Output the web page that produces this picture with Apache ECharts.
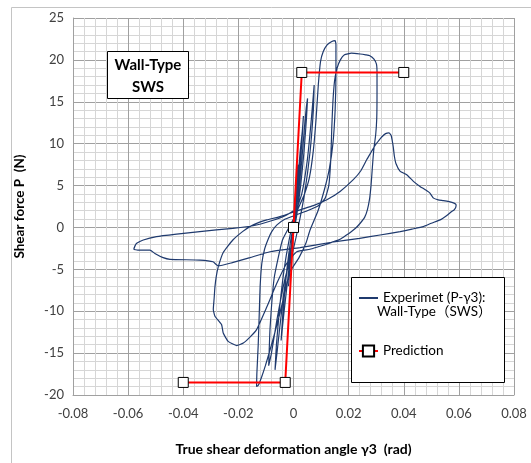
<!doctype html>
<html>
	<head>
		<meta charset="UTF-8">
		<title></title>
		<script src="https://cdn.jsdelivr.net/npm/echarts@6/dist/echarts.min.js"></script>
		<style>
			html, body { margin: 0; padding: 0; background: #fff; }
			#chart { width: 531px; height: 463px; }
		</style>
	</head>
	<body>
		<div id="chart"></div>
		<script type="text/javascript">
			// axis ticks
			var xTicks = [-0.08, -0.06, -0.04, -0.02, 0, 0.02, 0.04, 0.06, 0.08];
			var yTicks = [-20, -15, -10, -5, 0, 5, 10, 15, 20, 25];

			// prediction (skeleton curve)
			var predX = [-0.04, -0.003, 0, 0.003, 0.04];
			var predY = [-18.5, -18.5, 0, 18.5, 18.5];

			var smallCycles = [
				[0, 0], [0.0006, 3], [0.0012, 6], [0.0016, 7.5], [0.0012, 5.5], [0.0004, 2], [-0.0004, -1],
				[-0.0012, -4.5], [-0.0018, -7], [-0.0014, -5], [-0.0006, -1.5],
				[0.0004, 1.5], [0.0014, 5], [0.0024, 9], [0.0032, 11.5], [0.0036, 13.3], [0.003, 10], [0.0018, 5],
				[0.0006, 1], [-0.0008, -2.5], [-0.0022, -6.5], [-0.0034, -10], [-0.0042, -12.5], [-0.0045, -13.5],
				[-0.0038, -10], [-0.0024, -5], [-0.001, -1.5],
				[0.0004, 1], [0.0018, 4], [0.003, 8], [0.004, 12], [0.0046, 14.2], [0.0051, 15.4], [0.0047, 13],
				[0.0038, 9], [0.0026, 5], [0.0012, 1.5], [-0.0004, -1.5], [-0.002, -4.5], [-0.0036, -8], [-0.005, -12],
				[-0.006, -15], [-0.0067, -17], [-0.0062, -14], [-0.005, -9.5], [-0.0034, -5], [-0.0016, -1.5]
			];
			var midCycle = [
				[0.0005, 1.5], [0.003, 4], [0.005, 8], [0.0065, 13], [0.0075, 17], [0.0072, 14], [0.006, 9],
				[0.004, 4], [0.002, 0.5], [0, -2.5], [-0.003, -6], [-0.006, -11], [-0.008, -15], [-0.009, -16.5],
				[-0.0085, -12], [-0.007, -6], [-0.004, -1.5]
			];
			var peakCycle = [
				[0, 1], [0.002, 2.5], [0.004, 4], [0.0058, 6], [0.0072, 9.2], [0.0082, 13], [0.009, 17], [0.0098, 19.8],
				[0.0108, 21], [0.0122, 21.8], [0.0139, 22.2], [0.0151, 22.3], [0.0154, 21.8], [0.0154, 18.4],
				[0.0151, 14], [0.0143, 10], [0.013, 7], [0.0112, 4.5], [0.0089, 2], [0.006, -0.3], [0.0046, -1.8],
				[0.002, -3.6], [-0.0013, -5.3], [-0.0032, -7.8], [-0.0049, -10.2], [-0.0068, -12.6], [-0.0085, -14.6],
				[-0.0102, -16.5], [-0.0115, -17.8], [-0.0127, -18.8], [-0.0134, -19], [-0.0133, -17.5], [-0.0128, -14],
				[-0.0124, -10], [-0.0121, -7], [-0.0115, -4.3], [-0.0105, -2.6], [-0.0092, -1.4], [-0.0079, -0.5]
			];
			var plateauCycle = [
				[-0.006, 0.3], [-0.003, 1], [0.001, 1.5], [0.005, 2], [0.009, 2.6], [0.0115, 3.5], [0.0128, 5],
				[0.0135, 8], [0.0139, 12], [0.0143, 15], [0.0149, 17.5], [0.0158, 19], [0.017, 20], [0.0185, 20.6],
				[0.021, 20.8], [0.0242, 20.7], [0.0262, 20.6], [0.0277, 20.5], [0.0292, 20.1], [0.0301, 19.5],
				[0.0303, 18.5], [0.0303, 16], [0.0302, 13], [0.0298, 11], [0.0292, 9.5], [0.0288, 8], [0.0284, 6.2],
				[0.0281, 4.9], [0.0276, 3.4], [0.0268, 2.1], [0.0258, 1.2], [0.0242, 0.5], [0.0225, -0.1],
				[0.0206, -0.6], [0.0188, -1], [0.0169, -1.4], [0.0145, -1.7], [0.012, -2], [0.009, -2.3], [0.006, -2.6],
				[0.0012, -2.9], [-0.0025, -4.3], [-0.0061, -6.7], [-0.0097, -9.5], [-0.0134, -12.2], [-0.0158, -13.1],
				[-0.0182, -13.8], [-0.0206, -14.1], [-0.0237, -13.6], [-0.0255, -12.6], [-0.0261, -11.6],
				[-0.0285, -10.6], [-0.0291, -9.8], [-0.0288, -8.5], [-0.0285, -7.1], [-0.028, -5.8], [-0.0273, -4.7]
			];
			var lastCycle = [
				[-0.0255, -3], [-0.022, -1.5], [-0.0185, -0.5], [-0.0158, 0.1], [-0.0125, 0.6], [-0.0097, 0.9],
				[-0.0049, 1.3], [0.0024, 2.1], [0.0072, 2.6], [0.0121, 3.3], [0.0169, 4.3], [0.0217, 5.7],
				[0.0245, 6.8], [0.0266, 8.1], [0.0282, 9], [0.0296, 9.8], [0.031, 10.4], [0.032, 10.8], [0.0334, 11.2],
				[0.0346, 11.3], [0.0354, 11], [0.0358, 10.4], [0.0362, 9.6], [0.0366, 8.5], [0.0372, 7.6],
				[0.0387, 6.7], [0.0411, 6.3], [0.0435, 5.5], [0.0459, 4.9], [0.0478, 4.5], [0.0495, 4.1],
				[0.0508, 3.5], [0.0525, 3.3], [0.0544, 3.2], [0.0575, 3.0], [0.0588, 2.8], [0.059, 2.6],
				[0.0583, 2.1], [0.0574, 1.9], [0.0555, 1.4], [0.0532, 0.9], [0.05, 0.5], [0.0471, 0.1],
				[0.043, -0.2], [0.0387, -0.5], [0.0314, -0.9], [0.024, -1.3], [0.0132, -1.8], [0.0024, -2.4],
				[-0.0085, -2.9], [-0.0158, -3.6], [-0.0222, -4.2], [-0.0273, -4.6], [-0.0292, -4.1], [-0.034, -3.9],
				[-0.0448, -3.8], [-0.0473, -3.6], [-0.0503, -3.1], [-0.0521, -2.7], [-0.0546, -2.7], [-0.0565, -2.7],
				[-0.0579, -2.6], [-0.0575, -2.2], [-0.0569, -1.9], [-0.0545, -1.5], [-0.0497, -1.1], [-0.0424, -0.8],
				[-0.034, -0.5], [-0.022, -0.1], [-0.0147, 0.2], [-0.008, 0.8], [-0.003, 1.4], [0, 2]
			];

			var expData = smallCycles.concat(midCycle, peakCycle, plateauCycle, lastCycle);
			var predData = predX.map(function(x, i) { return [x, predY[i]]; });

			var font = 'Lato, "Noto Sans", sans-serif';
			var chart = echarts.init(document.getElementById('chart'), null, { renderer: 'canvas' });

			var option = {
				animation: false,
				backgroundColor: '#fff',
				grid: { left: 73, right: 17, top: 18, bottom: 68 },
				xAxis: {
					type: 'value',
					min: xTicks[0],
					max: xTicks[xTicks.length - 1],
					interval: 0.02,
					name: 'True shear deformation angle γ3  (rad)',
					nameLocation: 'middle',
					nameGap: 47,
					nameTextStyle: { fontFamily: font, fontWeight: 'bold', fontSize: 14, color: '#000' },
					axisLine: { show: true, onZero: false, lineStyle: { color: '#a0a0a0' } },
					axisTick: { show: false },
					axisLabel: {
						margin: 12, fontFamily: font, fontSize: 13, color: '#404040',
						formatter: function(v) { return String(Math.round(v * 100) / 100); }
					},
					splitLine: { show: true, lineStyle: { color: '#a0a0a0', width: 1 } },
					minorTick: { show: false, splitNumber: 5 },
					minorSplitLine: { show: true, lineStyle: { color: '#d6d6d6', width: 1 } }
				},
				yAxis: {
					type: 'value',
					min: yTicks[0],
					max: yTicks[yTicks.length - 1],
					interval: 5,
					name: 'Shear force P  (N)',
					nameLocation: 'middle',
					nameGap: 46,
					nameTextStyle: { fontFamily: font, fontWeight: 'bold', fontSize: 13.5, color: '#000' },
					axisLine: { show: true, onZero: false, lineStyle: { color: '#a0a0a0' } },
					axisTick: { show: false },
					axisLabel: { margin: 9, fontFamily: font, fontSize: 13, color: '#404040' },
					splitLine: { show: true, lineStyle: { color: '#a0a0a0', width: 1 } },
					minorTick: { show: false, splitNumber: 5 },
					minorSplitLine: { show: true, lineStyle: { color: '#d6d6d6', width: 1 } }
				},
				legend: {
					orient: 'vertical',
					left: 353,
					top: 286,
					itemWidth: 19,
					itemHeight: 14,
					itemGap: 39,
					z: 10,
					textStyle: { fontFamily: font, fontSize: 13.5, color: '#000' },
					data: [
						{ name: 'Experimet (P-γ3):', itemStyle: { opacity: 0 } },
						{ name: 'Prediction' }
					]
				},
				graphic: [
					{ // outer chart frame
						type: 'rect', z: 0, silent: true,
						shape: { x: 11.5, y: 7.5, width: 600, height: 500 },
						style: { fill: 'none', stroke: '#c4c4c4', lineWidth: 1 }
					},
					{ // label box
						type: 'rect', z: 5,
						shape: { x: 107.5, y: 51.5, width: 81, height: 47 },
						style: { fill: '#fff', stroke: '#000', lineWidth: 1 }
					},
					{
						type: 'text', z: 6,
						style: {
							x: 148, y: 76, text: 'Wall-Type\nSWS', align: 'center', verticalAlign: 'middle',
							font: 'bold 15px ' + font, fill: '#000', lineHeight: 22
						}
					},
					{ // legend box
						type: 'rect', z: 5,
						shape: { x: 351.5, y: 277.5, width: 153, height: 105 },
						style: { fill: '#fff', stroke: '#000', lineWidth: 1 }
					},
					{
						type: 'text', z: 6,
						style: {
							x: 377, y: 312, text: 'Wall-Type（SWS）', verticalAlign: 'middle',
							font: '13.5px ' + font + ', "Noto Sans CJK JP"', fill: '#000'
						}
					}
				],
				series: [
					{
						name: 'Experimet (P-γ3):',
						type: 'line',
						data: expData,
						showSymbol: false,
						symbol: 'none',
						smooth: 0.15,
						lineStyle: { color: '#1f3a6e', width: 1.2 },
						itemStyle: { color: '#1f3a6e' },
						z: 2
					},
					{
						name: 'Prediction',
						type: 'line',
						data: predData,
						symbol: 'rect',
						symbolSize: 10,
						lineStyle: { color: '#ff0000', width: 2 },
						itemStyle: { color: '#fff', borderColor: '#000', borderWidth: 1 },
						z: 3
					}
				]
			};
			chart.setOption(option);
		</script>
	</body>
</html>
